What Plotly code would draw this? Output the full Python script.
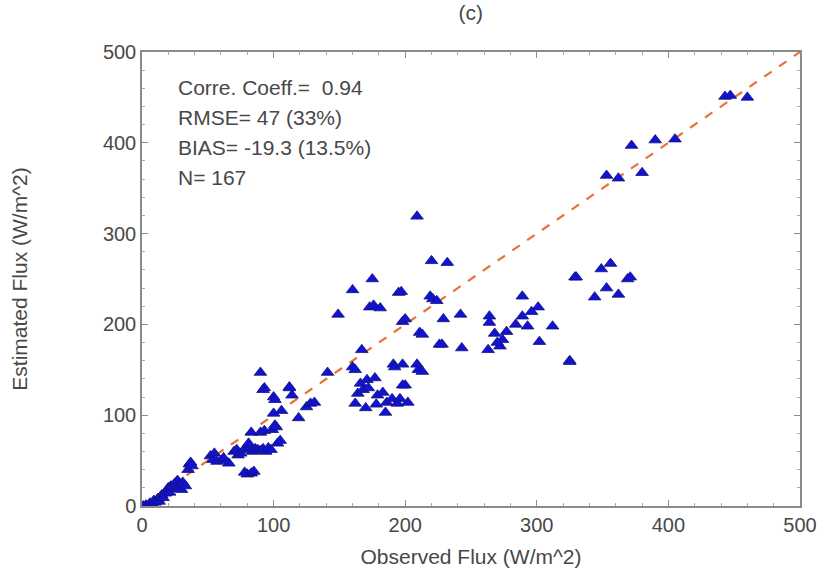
import plotly.graph_objects as go

# Observed flux (W/m^2)
observed = [
    1, 3, 5, 6, 8, 9, 10, 12, 13, 14, 15, 16, 18, 19, 20, 21, 22, 24, 25, 26,
    27, 28, 29, 30, 31, 33, 35, 36, 37, 38,
    52, 54, 55, 57, 60, 62, 66, 70, 72, 73, 75, 78, 80, 82, 84, 86, 88, 90, 92, 94,
    96, 98, 78, 80, 83, 85, 81, 83, 90, 93, 99, 101, 103, 100, 102, 105,
    90, 93, 92, 100, 101, 112, 114, 112, 119, 125, 128, 131,
    141, 149, 160, 162, 160, 167, 173, 176, 181, 175, 195, 197, 209, 220, 232, 219,
    221, 224, 198, 200, 211, 229, 242, 226, 228, 243, 191, 192, 210, 209, 198, 198,
    200, 164, 162, 171, 177, 179, 186, 194, 202, 185, 168, 190, 166, 172, 183, 196,
    170, 178, 213, 213,
    263, 264, 264, 272, 274, 277, 289, 301, 289, 293, 312, 302, 325, 329, 270, 284,
    296, 268,
    330, 344, 349, 353, 356, 362, 369, 371, 325,
    353, 362, 380, 372, 390, 405, 443, 460, 447,
    106,
]
# Estimated flux (W/m^2)
estimated = [
    0, 1, 0, 3, 2, 6, 4, 8, 5, 10, 12, 9, 14, 17, 20, 15, 22, 19, 25, 22,
    28, 20, 24, 18, 26, 22, 40, 46, 48, 44,
    55, 51, 58, 49, 50, 53, 47, 60, 62, 56, 58, 63, 62, 64, 60, 63, 62, 61, 63, 60,
    64, 62, 37, 35, 36, 38, 69, 81, 81, 83, 84, 89, 69, 102, 87, 72,
    147, 130, 128, 120, 117, 131, 122, 130, 97, 109, 113, 114,
    147, 211, 153, 150, 238, 172, 219, 221, 218, 250, 235, 236, 319, 270, 268, 231,
    228, 226, 203, 206, 191, 206, 211, 178, 178, 174, 156, 153, 150, 156, 156, 133,
    133, 124, 113, 139, 141, 122, 114, 113, 114, 103, 128, 118, 135, 130, 125, 118,
    108, 112, 189, 148,
    172, 209, 202, 176, 183, 192, 231, 219, 209, 198, 198, 181, 160, 252, 180, 200,
    214, 190,
    252, 230, 261, 240, 267, 233, 250, 252, 159,
    364, 361, 367, 397, 403, 404, 451, 450, 452,
    105,
]

ref_line = [0, 500]
x_ticks = [0, 100, 200, 300, 400, 500]
y_ticks = [0, 100, 200, 300, 400, 500]

stats_lines = [
    "Corre. Coeff.=  0.94",
    "RMSE= 47 (33%)",
    "BIAS= -19.3 (13.5%)",
    "N= 167",
]

FONT = "Liberation Sans, Arial, Helvetica, sans-serif"
TXT = "#484848"

fig = go.Figure()
fig.add_trace(go.Scatter(
    x=ref_line, y=ref_line, mode="lines",
    line=dict(color="#e8703a", width=2.2, dash="dash"),
    hoverinfo="skip", showlegend=False,
))
fig.add_trace(go.Scatter(
    x=observed, y=estimated, mode="markers",
    marker=dict(symbol="triangle-up", size=11, color="#1212d4",
                line=dict(width=0.8, color="#14147a")),
    showlegend=False,
))

ys = [0.922, 0.856, 0.790, 0.724]
for txt, yy in zip(stats_lines, ys):
    fig.add_annotation(x=0.052, y=yy, xref="paper", yref="paper", text=txt,
                       showarrow=False, xanchor="left", yanchor="middle",
                       font=dict(family=FONT, size=21, color=TXT))

axis_common = dict(
    range=[0, 500], showline=True, linecolor="#8a8a8a", linewidth=1.5,
    mirror="ticks", ticks="inside", ticklen=6, tickwidth=1, tickcolor="#8a8a8a",
    showgrid=False, zeroline=False,
    minor=dict(ticks="inside", ticklen=3, tickcolor="#aaaaaa", dtick=20),
    tickfont=dict(family=FONT, size=20, color=TXT),
)

fig.update_layout(
    width=833, height=576,
    margin=dict(l=142, r=33, t=52, b=70),
    paper_bgcolor="white", plot_bgcolor="white",
    title=dict(text="(c)", x=0.565, xanchor="center", y=0.978, yanchor="middle",
               font=dict(family=FONT, size=21, color=TXT)),
    xaxis=dict(axis_common, tickvals=x_ticks,
               title=dict(text="Observed Flux (W/m^2)", standoff=15,
                          font=dict(family=FONT, size=21, color=TXT))),
    yaxis=dict(axis_common, tickvals=y_ticks,
               title=dict(text="Estimated Flux (W/m^2)", standoff=70,
                          font=dict(family=FONT, size=21, color=TXT))),
)

fig.write_html("out.html")
